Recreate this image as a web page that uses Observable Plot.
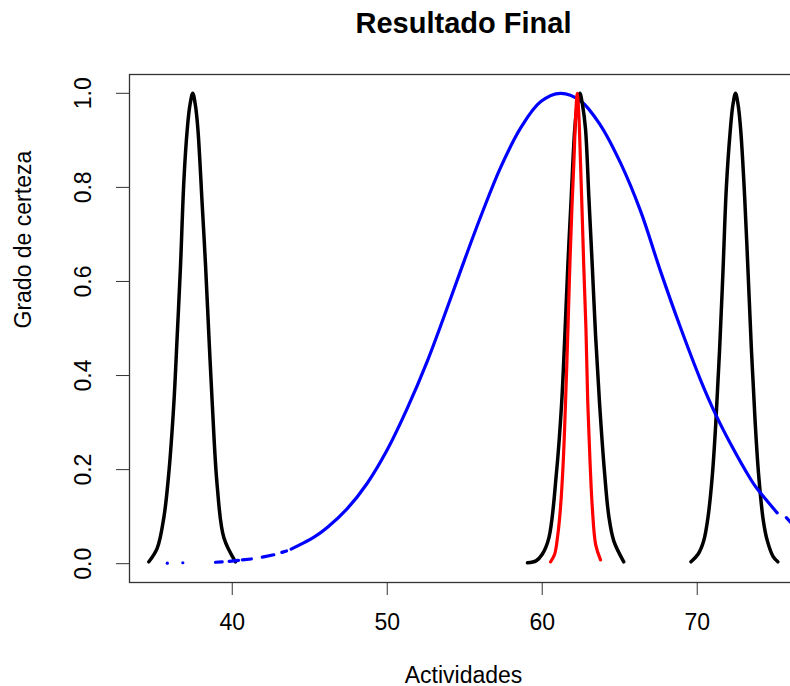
<!DOCTYPE html>
<html>
<head>
<meta charset="utf-8">
<script src="https://cdn.jsdelivr.net/npm/d3@7"></script>
<script src="https://cdn.jsdelivr.net/npm/@observablehq/plot@0.6"></script>
<style>
  html, body { margin: 0; padding: 0; background: #fff; overflow: hidden; }
  #chart svg { display: block; overflow: hidden; }
</style>
</head>
<body>
<div id="chart"></div>
<script>
// Membership curves: activity value (x) vs. degree of certainty (y)
const black1X = [34.62, 35.16, 35.59, 35.91, 36.23, 36.45, 36.66, 36.88, 37.10, 37.27, 37.45, 37.62, 37.78, 38.06, 38.28, 38.49, 38.71, 39.03, 39.46, 40.21];
const black1Y = [0.004, 0.033, 0.099, 0.194, 0.34, 0.486, 0.632, 0.815, 0.925, 0.975, 1.0, 0.975, 0.925, 0.764, 0.632, 0.486, 0.34, 0.165, 0.055, 0.004];

const black2X = [59.05, 59.6, 60.0, 60.43, 60.92, 61.25, 61.46, 61.65, 61.87, 62.10, 62.26, 62.43, 62.6, 62.79, 63.01, 63.23, 63.44, 63.70, 64.02, 64.3, 64.62, 65.26];
const black2Y = [0.002, 0.006, 0.02, 0.055, 0.194, 0.34, 0.486, 0.632, 0.778, 0.925, 0.975, 1.0, 0.975, 0.925, 0.778, 0.632, 0.486, 0.34, 0.194, 0.1, 0.048, 0.004];

const black3X = [69.6, 70.05, 70.42, 70.7, 70.98, 71.2, 71.34, 71.45, 71.66, 71.88, 72.13, 72.3, 72.47, 72.64, 72.81, 73.06, 73.28, 73.49, 73.6, 73.74, 73.96, 74.27, 74.52, 74.9, 75.2];
const black3Y = [0.004, 0.02, 0.049, 0.1, 0.19, 0.3, 0.389, 0.46, 0.62, 0.8, 0.92, 0.975, 1.0, 0.975, 0.92, 0.78, 0.62, 0.46, 0.389, 0.3, 0.19, 0.09, 0.049, 0.015, 0.004];

const redX = [60.54, 60.8, 61.0, 61.18, 61.36, 61.5, 61.66, 61.78, 61.92, 62.04, 62.16, 62.26, 62.36, 62.47, 62.58, 62.68, 62.82, 62.94, 63.08, 63.23, 63.45, 63.76];
const redY = [0.004, 0.02, 0.06, 0.12, 0.22, 0.34, 0.5, 0.632, 0.76, 0.852, 0.955, 1.0, 0.955, 0.852, 0.74, 0.632, 0.5, 0.34, 0.22, 0.12, 0.04, 0.008];

// blue curve is sampled sparsely in its tails: null marks a break in the trace
const blueX = [38.92, 39.35, 39.6, 39.8, 40.4, 40.55, 40.65, 41.23, 41.6, 41.94, 42.68, 42.95, 43.2, 43.5, 43.65, 43.8, 44.41, 45.3, 46.13, 47.42, 48.71, 50.0, 51.29, 52.58, 53.97, 55.0, 56.02, 57.31, 58.6, 59.89, 61.18, 62.47, 63.76, 65.05, 66.34, 67.63, 68.92, 70.21, 71.18, 72.15, 73.44, 73.76, 75.16, 75.45, 75.75, 76.3];
const blueY = [0.003, 0.004, null, 0.005, 0.007, null, 0.008, 0.010, null, 0.014, 0.019, null, 0.024, 0.027, null, 0.031, 0.041, 0.057, 0.077, 0.117, 0.171, 0.242, 0.33, 0.43, 0.553, 0.647, 0.737, 0.842, 0.926, 0.982, 1.0, 0.984, 0.932, 0.852, 0.75, 0.622, 0.502, 0.391, 0.318, 0.255, 0.18, 0.164, 0.108, null, 0.098, 0.078];
const blueDotX = [35.81, 36.81];
const blueDotY = [0.001, 0.002];

const xTicks = [40, 50, 60, 70];
const yTicks = [0, 0.2, 0.4, 0.6, 0.8, 1.0];

const title = "Resultado Final";
const xLabel = "Actividades";
const yLabel = "Grado de certeza";

const rows = (xs, ys) => xs.map((x, i) => ({x, y: ys[i] == null ? NaN : ys[i]}));

const font = "'Liberation Sans', Arial, Helvetica, sans-serif";

const chart = Plot.plot({
  width: 790,
  height: 686,
  marginLeft: 129,
  marginRight: -7,
  marginTop: 74,
  marginBottom: 104,
  x: {domain: [33.37, 76.47]},
  y: {domain: [-0.04, 1.04]},
  style: {fontFamily: font, fontSize: "23px", color: "#000", background: "#fff", overflow: "hidden"},
  marks: [
    Plot.frame({stroke: "#333", strokeWidth: 1.3}),
    Plot.axisX({ticks: xTicks, tickSize: 13, tickPadding: 18, fontSize: 23, label: null, stroke: "#333"}),
    Plot.axisY({ticks: yTicks, tickSize: 13, tickFormat: () => "", label: null, stroke: "#333"}),
    Plot.text(yTicks, {y: d => d, text: d => d.toFixed(1), frameAnchor: "left", rotate: -90, dx: -39, lineAnchor: "bottom", textAnchor: "middle", fontSize: 23}),
    Plot.line(rows(black1X, black1Y), {x: "x", y: "y", stroke: "#000", strokeWidth: 3.5, curve: "catmull-rom"}),
    Plot.line(rows(black3X, black3Y), {x: "x", y: "y", stroke: "#000", strokeWidth: 3.5, curve: "catmull-rom"}),
    Plot.line(rows(blueX, blueY), {x: "x", y: "y", stroke: "#0000ff", strokeWidth: 3.2, curve: "catmull-rom"}),
    Plot.dot(blueDotX, {x: d => d, y: (d, i) => blueDotY[i], r: 1.6, fill: "#0000ff", stroke: null}),
    Plot.line(rows(black2X, black2Y), {x: "x", y: "y", stroke: "#000", strokeWidth: 3.5, curve: "catmull-rom"}),
    Plot.line(rows(redX, redY), {x: "x", y: "y", stroke: "#ff0000", strokeWidth: 3.2, curve: "catmull-rom"}),
    Plot.text([title], {frameAnchor: "top", dy: -42, lineAnchor: "bottom", fontSize: 29, fontWeight: "bold"}),
    Plot.text([xLabel], {frameAnchor: "bottom", dy: 100, lineAnchor: "bottom", fontSize: 23}),
    Plot.text([yLabel], {frameAnchor: "left", dx: -99, rotate: -90, lineAnchor: "bottom", fontSize: 23})
  ]
});

document.getElementById("chart").appendChild(chart);
</script>
</body>
</html>
